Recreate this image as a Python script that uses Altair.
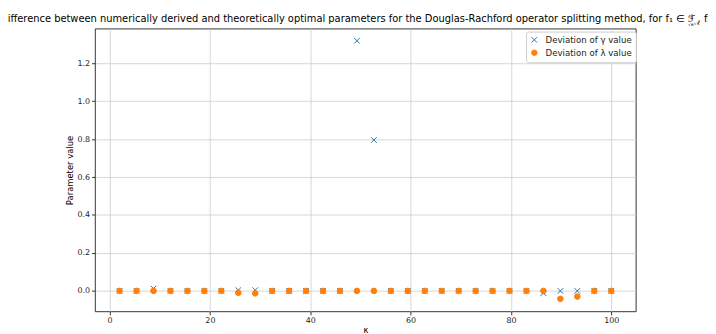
import altair as alt
import pandas as pd

kappa = [2.0, 5.38, 8.76, 12.14, 15.52, 18.90, 22.28, 25.66, 29.03, 32.41,
         35.79, 39.17, 42.55, 45.93, 49.31, 52.69, 56.07, 59.45, 62.83, 66.21,
         69.59, 72.97, 76.34, 79.72, 83.10, 86.48, 89.86, 93.24, 96.62, 100.0]
gamma_dev = [0.0, 0.0, 0.012, 0.0, 0.0, 0.0, 0.0, 0.004, 0.004, 0.0,
             0.0, 0.0, 0.0, 0.0, 1.318, 0.795, 0.0, 0.0, 0.0, 0.0,
             0.0, 0.0, 0.0, 0.0, 0.0, -0.012, 0.0, 0.0, 0.0, 0.0]
lambda_dev = [0.0, 0.0, 0.0, 0.0, 0.0, 0.0, 0.0, -0.010, -0.013, 0.0,
              0.0, 0.0, 0.0, 0.0, 0.0, 0.0, 0.0, 0.0, 0.0, 0.0,
              0.0, 0.0, 0.0, 0.0, 0.0, 0.0, -0.042, -0.030, 0.0, 0.0]
series_names = ["Deviation of γ value", "Deviation of λ value"]
x_ticks = [0, 20, 40, 60, 80, 100]
y_ticks = [0.0, 0.2, 0.4, 0.6, 0.8, 1.0, 1.2]
title_text = ("Difference between numerically derived and theoretically optimal parameters "
              "for the Douglas-Rachford operator splitting method, for f₁ ∈ ℱ")
# pieces of the title's formula (subscript of ℱ and the rest)
sub_num = "1"
sub_den = "√κ"
sub_rest = ",√κ"
title_tail = ", f₂ ∈"

rows = []
for k, g in zip(kappa, gamma_dev):
    rows.append({"kappa": k, "value": g, "series": series_names[0]})
for k, l in zip(kappa, lambda_dev):
    rows.append({"kappa": k, "value": l, "series": series_names[1]})
df = pd.DataFrame(rows)

xpath = "M-1,-1L1,1M-1,1L1,-1"
legend = alt.Legend(title=None, orient="none", legendX=436, legendY=3,
                    fillColor="white", strokeColor="#cccccc", padding=4,
                    cornerRadius=2, labelFontSize=8.7, labelColor="#222222",
                    labelFont="DejaVu Sans", symbolSize=30, rowPadding=2,
                    symbolStrokeWidth=1, labelOffset=7)

points = alt.Chart(df).mark_point(size=32, strokeWidth=1, opacity=1).encode(
    x=alt.X("kappa:Q", title="κ",
            scale=alt.Scale(domain=[-2.9, 104.9], nice=False, zero=False),
            axis=alt.Axis(values=x_ticks, format="d")),
    y=alt.Y("value:Q", title="Parameter value",
            scale=alt.Scale(domain=[-0.108, 1.382], nice=False, zero=False),
            axis=alt.Axis(values=y_ticks, format=".1f")),
    stroke=alt.Stroke("series:N", scale=alt.Scale(domain=series_names, range=["#1f77b4", "#ff7f0e"]), legend=legend),
    fill=alt.Fill("series:N", scale=alt.Scale(domain=series_names, range=["transparent", "#ff7f0e"]), legend=legend),
    shape=alt.Shape("series:N", scale=alt.Scale(domain=series_names, range=[xpath, "circle"]), legend=legend),
    order=alt.Order("series:N"),
)

def title_piece(text, px, py, size):
    return alt.Chart(pd.DataFrame({"t": [text]})).mark_text(
        align="left", baseline="alphabetic", font="DejaVu Sans", fontSize=size,
        color="#000000").encode(x=alt.value(px), y=alt.value(py), text="t:N")

chart = alt.layer(
    points,
    title_piece(title_text, -96, -6.5, 10),
    title_piece(sub_num, 601.5, -9.5, 4.5),
    title_piece(sub_den, 600, -2.5, 4.5),
    title_piece(sub_rest, 604.5, -4, 4.5),
    title_piece(title_tail, 609.5, -6.5, 10),
).properties(
    width=547, height=286,
    autosize=alt.AutoSizeParams(type="none"),
    padding={"left": 88, "top": 19, "right": 73, "bottom": 21},
).configure_view(
    stroke="#000000", strokeWidth=0.8
).configure_axis(
    grid=True, gridColor="#cccccc", gridWidth=0.8,
    domain=False, ticks=True, tickColor="#000000", tickSize=3.5, tickWidth=0.8,
    labelFont="DejaVu Sans", labelFontSize=8, labelColor="#222222", labelPadding=2,
    titleFont="DejaVu Sans", titleFontSize=8.5, titleFontWeight="normal", titleColor="#000000",
).configure_axisY(titlePadding=3).configure_axisX(titlePadding=1)

chart.save("out.html", embed_options={"renderer": "svg", "actions": False})
